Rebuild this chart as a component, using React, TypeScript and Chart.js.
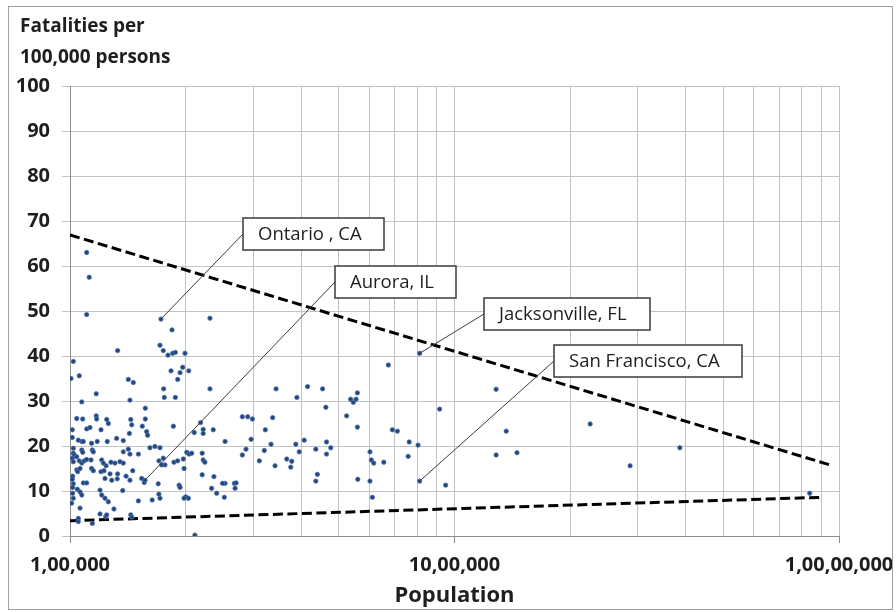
import React, { useEffect, useRef } from "react";
import { Chart, registerables } from "chart.js";

Chart.register(...registerables);

// Population (thousands) and fatalities per 100,000 persons
const POP_K = [
  110.5, 112.2, 110.5, 172.4, 231.2, 184.2, 171.4, 174.8, 179.8, 185.0,
  187.9, 199.1, 133.0, 102.0, 100.6, 105.7, 141.8, 146.1, 183.1, 193.3,
  196.4, 203.6, 190.6, 117.0, 107.3, 143.2, 157.0, 175.2, 175.9, 187.9,
  231.2, 104.1, 107.9, 117.0, 117.3, 124.6, 143.9, 157.0,
  125.8, 144.7, 154.2, 185.7, 210.4, 218.6, 222.0, 222.0, 235.8, 253.1,
  101.4, 101.4, 110.5, 112.7, 120.4, 142.7, 158.2, 159.2,
  105.1, 107.3, 108.3, 113.8, 117.7, 125.0, 132.2, 137.6, 161.4, 166.3, 171.4,
  102.0, 102.0, 107.3, 107.9, 114.3, 115.0, 137.6, 141.8, 143.2, 150.6,
  170.3, 174.8, 176.6, 173.1, 186.4, 190.6, 197.1, 201.2, 204.0, 207.2,
  220.7, 222.0, 224.3, 236.8, 253.1, 267.6,
  101.4, 102.6, 102.0, 104.1, 105.7, 107.3, 108.9, 110.5, 113.4, 120.9, 122.1, 124.1, 127.8, 130.9, 134.9, 137.6,
  113.8, 115.0, 120.4, 122.6, 123.3, 127.1, 128.4, 132.7, 133.0, 139.9, 143.2, 145.6, 153.6, 156.0, 156.7, 169.6,
  101.6, 101.4, 102.0, 101.6, 104.1, 104.7, 106.2, 108.3, 110.5, 104.5, 106.2, 107.3, 101.6, 102.0, 101.0, 106.2,
  119.7, 120.9, 123.3, 125.8, 130.1, 119.7, 123.8, 124.6, 137.1, 143.9, 144.7, 150.6, 163.6, 171.4, 170.3,
  105.1, 105.1, 114.3, 211.3, 198.0, 192.2, 193.3, 200.0, 203.2, 198.0, 220.7, 233.5, 240.7, 249.3, 252.0, 268.7, 270.4,
  343.5, 389.1, 414.8, 453.9, 462.8, 524.1, 536.9, 545.4, 554.5, 559.0, 672.8, 811.7, 915.0, 280.7, 289.9, 298.2, 336.6,
  559.0, 280.7, 286.9, 295.8, 310.8, 320.2, 322.1, 333.3, 341.4, 366.2, 377.4, 375.1, 386.7, 394.6, 406.6, 435.8, 440.0,
  435.8, 464.7, 476.6, 464.7, 560.4, 602.8, 607.7, 616.6, 654.8, 602.8, 611.5, 689.1, 710.2, 762.4, 803.8, 757.8, 811.7, 948.4,
  1283, 1363, 1283, 1454, 2253, 2862, 3855, 8392,
];

const RATE = [
  63.0, 57.5, 49.2, 48.2, 48.4, 45.8, 42.4, 41.2, 40.2, 40.6,
  40.8, 40.6, 41.2, 38.8, 35.0, 35.6, 34.8, 34.1, 36.7, 36.3,
  37.5, 36.7, 34.8, 31.6, 29.8, 30.2, 28.4, 32.7, 30.8, 30.8,
  32.7, 26.1, 26.0, 26.7, 26.0, 25.9, 25.9, 26.0,
  25.0, 24.7, 24.4, 24.4, 23.0, 25.2, 23.7, 22.8, 23.6, 21.0,
  23.6, 21.9, 23.8, 24.1, 23.6, 22.8, 23.2, 22.4,
  21.3, 21.0, 21.0, 20.6, 21.0, 21.0, 21.7, 21.2, 19.6, 19.9, 19.6,
  19.5, 18.4, 19.1, 18.6, 19.1, 18.7, 18.7, 19.3, 18.2, 18.2,
  16.7, 17.3, 15.8, 15.8, 16.4, 16.7, 17.1, 18.6, 18.2, 18.4,
  18.4, 16.9, 16.4, 13.2, 11.7, 11.7,
  17.3, 18.0, 16.5, 17.6, 16.7, 16.2, 16.7, 17.0, 16.9, 16.9, 16.2, 15.6, 16.4, 16.2, 16.5, 16.2,
  15.0, 14.5, 14.3, 14.5, 12.8, 13.8, 12.4, 12.7, 13.8, 13.3, 12.4, 14.5, 12.8, 11.9, 12.4, 11.6,
  13.3, 12.6, 11.6, 10.8, 14.7, 14.3, 15.0, 11.8, 11.8, 10.4, 9.8, 9.1, 9.5, 8.4, 7.3, 6.2,
  10.2, 9.1, 8.4, 7.6, 6.0, 4.9, 4.3, 4.7, 10.1, 4.7, 4.2, 7.8, 8.0, 8.4, 9.3,
  3.9, 3.2, 2.8, 0.2, 15.0, 11.3, 10.8, 8.7, 8.4, 8.4, 13.6, 10.6, 9.5, 11.7, 8.6, 10.6, 11.8,
  32.7, 30.8, 33.2, 32.7, 28.6, 26.7, 30.4, 29.7, 30.4, 31.8, 38.0, 40.6, 28.2, 26.5, 26.5, 26.0, 26.3,
  24.2, 18.0, 19.3, 21.5, 16.7, 19.0, 23.6, 20.4, 15.6, 17.1, 16.6, 15.3, 20.4, 18.7, 21.3, 19.3, 13.7,
  12.2, 20.9, 19.6, 18.2, 12.6, 18.7, 16.9, 16.2, 16.4, 12.2, 8.6, 23.6, 23.3, 20.9, 20.2, 17.7, 12.2, 11.3,
  32.6, 23.3, 18.0, 18.5, 24.9, 15.6, 19.6, 9.5,
];

// Dashed boundary lines (population in thousands, rate)
const UPPER_LINE_POP_K = [100, 9640];
const UPPER_LINE_RATE = [66.9, 15.6];
const LOWER_LINE_POP_K = [100, 9040];
const LOWER_LINE_RATE = [3.4, 8.6];

// Labelled cities
const CALLOUT_LABELS = ["Ontario , CA", "Aurora, IL", "Jacksonville, FL", "San Francisco, CA"];
const CALLOUT_POP_K = [172.4, 156.7, 811.7, 811.7];
const CALLOUT_RATE = [48.2, 12.4, 40.6, 12.2];

// Axis ticks
const X_MAJOR_TICKS = [100000, 1000000, 10000000];
const X_TICK_LABELS = ["1,00,000", "10,00,000", "1,00,00,000"];
const X_MINOR_MULTIPLIERS = [2, 3, 4, 5, 6, 7, 8, 9];
const Y_TITLE_LINES = ["Fatalities per", "100,000 persons"];
const X_TITLE = "Population";

// Layout of callout boxes (pixels)
const CALLOUT_BOXES = [
  { left: 243, top: 218, width: 141 },
  { left: 335, top: 266, width: 121 },
  { left: 484, top: 298, width: 166 },
  { left: 554, top: 345, width: 188 },
];
const BOX_HEIGHT = 32;

const FONT = "'Open Sans', 'DejaVu Sans', sans-serif";
const GRID = "#c3c3c3";
const AXIS = "#8c8c8c";
const TEXT = "#1e1e1e";

const xGridValues: number[] = [];
for (let i = 0; i < X_MAJOR_TICKS.length; i++) {
  xGridValues.push(X_MAJOR_TICKS[i]);
  if (i < X_MAJOR_TICKS.length - 1) {
    for (const m of X_MINOR_MULTIPLIERS) xGridValues.push(X_MAJOR_TICKS[i] * m);
  }
}

const overlayPlugin = {
  id: "overlay",
  afterDatasetsDraw(chart: any) {
    const ctx = chart.ctx;
    const xs = chart.scales.x;
    const ys = chart.scales.y;
    ctx.save();
    CALLOUT_LABELS.forEach((label, i) => {
      const box = CALLOUT_BOXES[i];
      const px = xs.getPixelForValue(CALLOUT_POP_K[i] * 1000);
      const py = ys.getPixelForValue(CALLOUT_RATE[i]);
      ctx.beginPath();
      ctx.strokeStyle = "#3c3c3c";
      ctx.lineWidth = 1;
      ctx.moveTo(box.left, box.top + BOX_HEIGHT / 2);
      ctx.lineTo(px, py);
      ctx.stroke();
    });
    CALLOUT_LABELS.forEach((label, i) => {
      const box = CALLOUT_BOXES[i];
      ctx.fillStyle = "#ffffff";
      ctx.fillRect(box.left, box.top, box.width, BOX_HEIGHT);
      ctx.strokeStyle = "#3a3a3a";
      ctx.lineWidth = 1.5;
      ctx.strokeRect(box.left, box.top, box.width, BOX_HEIGHT);
      ctx.fillStyle = TEXT;
      ctx.font = `18.5px ${FONT}`;
      ctx.textBaseline = "middle";
      ctx.textAlign = "left";
      ctx.fillText(label, box.left + 15, box.top + BOX_HEIGHT / 2 + 1);
    });
    ctx.restore();
  },
  afterDraw(chart: any) {
    const ctx = chart.ctx;
    const area = chart.chartArea;
    ctx.save();
    ctx.fillStyle = TEXT;
    ctx.textAlign = "left";
    ctx.textBaseline = "alphabetic";
    ctx.font = `bold 19px ${FONT}`;
    ctx.fillText(Y_TITLE_LINES[0], 20, 32);
    ctx.fillText(Y_TITLE_LINES[1], 20, 63);
    ctx.font = `bold 22px ${FONT}`;
    ctx.textAlign = "center";
    ctx.fillText(X_TITLE, (area.left + area.right) / 2, 602);
    ctx.strokeStyle = "#a0a0a0";
    ctx.lineWidth = 1;
    ctx.strokeRect(8.5, 6.5, 884, 603);
    ctx.restore();
  },
};

export default function App() {
  const canvasRef = useRef<HTMLCanvasElement | null>(null);

  useEffect(() => {
    const canvas = canvasRef.current;
    if (!canvas) return;
    const points = POP_K.map((p, i) => ({ x: p * 1000, y: RATE[i] }));
    const upper = UPPER_LINE_POP_K.map((p, i) => ({ x: p * 1000, y: UPPER_LINE_RATE[i] }));
    const lower = LOWER_LINE_POP_K.map((p, i) => ({ x: p * 1000, y: LOWER_LINE_RATE[i] }));

    const chart = new Chart(canvas, {
      type: "scatter",
      data: {
        datasets: [
          {
            label: "Cities",
            data: points,
            pointRadius: 2.2,
            pointBackgroundColor: "#23457c",
            pointBorderColor: "#4d74ad",
            pointBorderWidth: 0.8,
            order: 0,
          },
          {
            label: "Upper",
            data: upper,
            showLine: true,
            borderColor: "#000000",
            borderWidth: 3,
            borderDash: [10, 4.5],
            pointRadius: 0,
            order: 1,
          },
          {
            label: "Lower",
            data: lower,
            showLine: true,
            borderColor: "#000000",
            borderWidth: 3,
            borderDash: [10, 4.5],
            pointRadius: 0,
            order: 1,
          },
        ],
      },
      options: {
        animation: false,
        responsive: false,
        devicePixelRatio: 1,
        events: [],
        layout: { padding: { left: 0, right: 57, top: 86, bottom: 0 } },
        plugins: {
          legend: { display: false },
          tooltip: { enabled: false },
          title: { display: false },
        },
        scales: {
          x: {
            type: "logarithmic",
            min: 100000,
            max: 10000000,
            afterBuildTicks: (scale: any) => {
              scale.ticks = xGridValues.map((v) => ({ value: v }));
            },
            afterFit: (scale: any) => {
              scale.height = 76;
              scale.paddingLeft = 0;
              scale.paddingRight = 0;
            },
            grid: {
              color: GRID,
              lineWidth: 1,
              tickLength: 7,
              tickColor: (c: any) =>
                c.tick && X_MAJOR_TICKS.includes(c.tick.value) ? AXIS : "rgba(0,0,0,0)",
            },
            border: { display: true, color: AXIS, width: 1 },
            ticks: {
              autoSkip: false,
              maxRotation: 0,
              minRotation: 0,
              padding: 10,
              color: TEXT,
              font: { family: FONT, size: 20, weight: "bold" },
              callback: (value: any) => {
                const idx = X_MAJOR_TICKS.indexOf(Number(value));
                return idx >= 0 ? X_TICK_LABELS[idx] : "";
              },
            },
          },
          y: {
            type: "linear",
            min: 0,
            max: 100,
            afterFit: (scale: any) => {
              scale.width = 70;
              scale.paddingTop = 0;
              scale.paddingBottom = 0;
            },
            grid: { color: GRID, lineWidth: 1, tickLength: 8, tickColor: GRID },
            border: { display: true, color: AXIS, width: 1 },
            ticks: {
              stepSize: 10,
              padding: 12,
              color: TEXT,
              font: { family: FONT, size: 20, weight: "bold" },
            },
          },
        },
      },
      plugins: [overlayPlugin],
    } as any);

    return () => chart.destroy();
  }, []);

  return (
    <div
      style={{
        position: "fixed",
        left: 0,
        top: 0,
        width: 896,
        height: 612,
        background: "#ffffff",
      }}
    >
      <canvas ref={canvasRef} width={896} height={612} style={{ display: "block" }} />
    </div>
  );
}
